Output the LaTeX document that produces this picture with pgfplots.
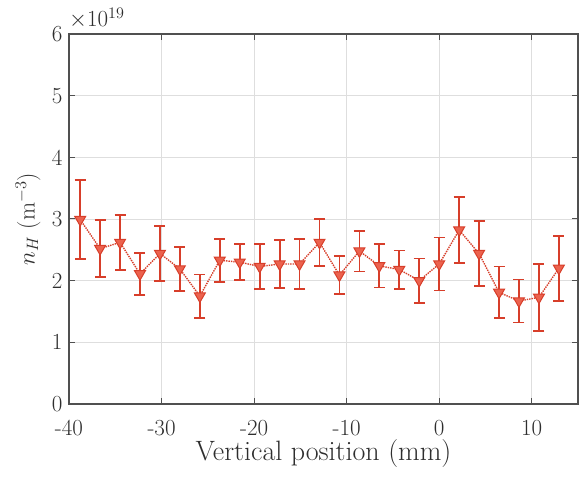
\RequirePackage{fix-cm}
\documentclass[border=0pt]{standalone}
\usepackage{fontspec}
\usepackage{pgfplots}
\pgfplotsset{compat=1.18}
\usepackage{pgfplotstable}
\definecolor{dred}{RGB}{215,62,42}
\definecolor{fred}{RGB}{236,98,78}
\definecolor{axgray}{RGB}{80,80,80}
\definecolor{gridgray}{RGB}{222,222,222}
\pgfplotstableread{
x y e
-38.79 2.99 0.64
-36.64 2.52 0.46
-34.48 2.62 0.45
-32.33 2.11 0.34
-30.17 2.44 0.45
-28.02 2.19 0.36
-25.86 1.75 0.35
-23.71 2.33 0.35
-21.55 2.30 0.29
-19.40 2.23 0.37
-17.24 2.27 0.39
-15.09 2.27 0.40
-12.93 2.62 0.38
-10.78 2.09 0.31
-8.62 2.48 0.33
-6.47 2.24 0.35
-4.31 2.18 0.31
-2.16 2.00 0.36
0.00 2.27 0.43
2.16 2.82 0.54
4.31 2.44 0.53
6.47 1.81 0.42
8.62 1.67 0.35
10.78 1.73 0.54
12.93 2.20 0.53
}\datatable
\begin{document}
\begin{tikzpicture}
\begin{axis}[
  scale only axis,
  width=509pt, height=370pt,
  xmin=-40, xmax=15, ymin=0, ymax=6,
  xtick={-40,-30,-20,-10,0,10},
  xticklabels={-40,-30,-20,-10,0,10},
  ytick={0,1,2,3,4,5,6},
  yticklabels={0,1,2,3,4,5,6},
  tick pos=both, tick align=inside,
  major tick length=6pt,
  axis line style={axgray, line width=1.3pt},
  tick style={axgray, line width=1pt},
  grid=major,
  major grid style={gridgray, line width=0.9pt},
  tick label style={font=\fontsize{23}{26}\selectfont, text=black!82},
  xticklabel style={yshift=-13pt},
  yticklabel style={xshift=-3pt},
  xlabel={Vertical position (mm)},
  ylabel={$n_H$ (m$^{-3}$)},
  xlabel style={at={(rel axis cs:0.5,0)}, anchor=center, yshift=-50pt,
    font=\fontsize{28}{31}\selectfont, text=black!82},
  ylabel style={at={(rel axis cs:0,0.5)}, anchor=center, yshift=41pt,
    font=\fontsize{23.5}{27}\selectfont, text=black!82},
  clip=false,
]
\addplot[dred, densely dotted, line width=1.4pt,
  mark=triangle*, mark size=6.3pt,
  mark options={solid, rotate=180, fill=fred, draw=dred, line width=1pt},
  error bars/.cd, y dir=both, y explicit,
  error bar style={solid, line width=1.8pt, dred},
  error mark options={rotate=90, mark size=5.5pt, line width=1.8pt, dred}]
  table[x=x, y=y, y error=e] {\datatable};
\node[anchor=base west, font=\fontsize{23}{26}\selectfont, text=black!82, inner sep=0pt]
  at ([yshift=7pt]rel axis cs:0,1) {$\times 10^{19}$};
\path (rel axis cs:0,0) ++(-69pt,-73pt);
\path (rel axis cs:1,1) ++(3pt,34pt);
\end{axis}
\end{tikzpicture}
\end{document}
